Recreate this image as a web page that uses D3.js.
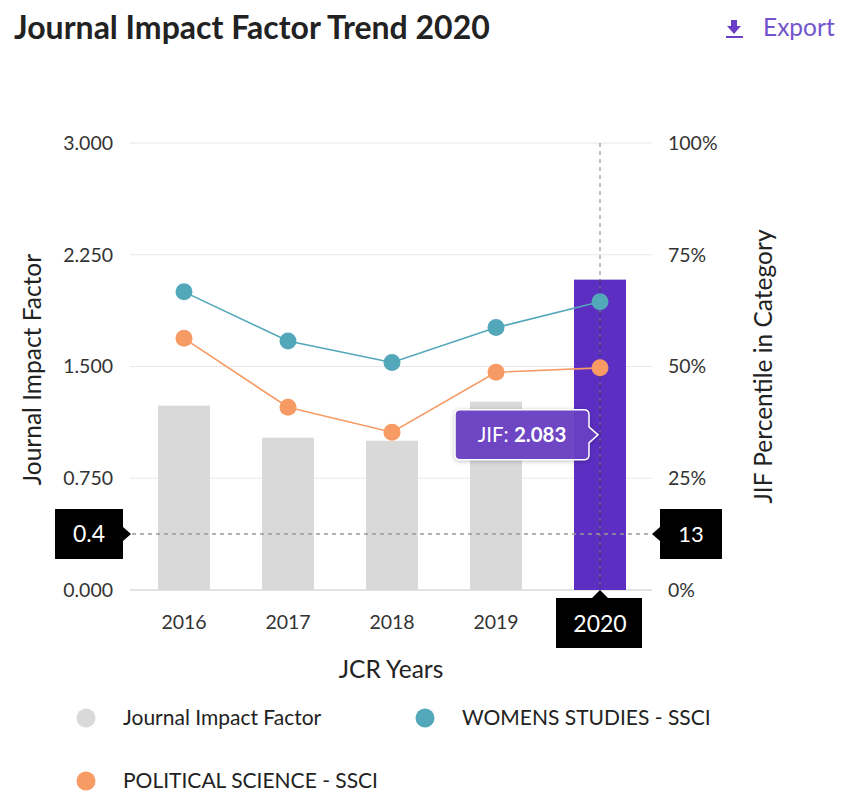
<!DOCTYPE html>
<html>
<head>
<meta charset="utf-8">
<script src="https://cdn.jsdelivr.net/npm/d3@7/dist/d3.min.js"></script>
<style>
  html, body { margin: 0; padding: 0; background: #fff; }
  svg { display: block; font-family: Lato, "Open Sans", sans-serif; }
</style>
</head>
<body>
<svg id="chart" width="848" height="797"></svg>
<script>
// ---- data ----
const years = ["2016", "2017", "2018", "2019", "2020"];
const jifValues = [1.237, 1.022, 1.002, 1.264, 2.083];
const womensStudiesPct = [66.7, 55.7, 50.9, 58.7, 64.5];
const politicalSciencePct = [56.3, 40.9, 35.3, 48.7, 49.7];
const leftTicks = [0, 0.75, 1.5, 2.25, 3.0];
const rightTicks = [0, 25, 50, 75, 100];
const highlightYear = "2020";
const crosshairJIF = 0.376;
const legendItems = [
  { label: "Journal Impact Factor", color: "#d9d9d9" },
  { label: "WOMENS STUDIES - SSCI", color: "#52a8b9" },
  { label: "POLITICAL SCIENCE - SSCI", color: "#f79a64" }
];

(function () {
// ---- layout ----
const svg = d3.select("#chart");
const pLeft = 132, pRight = 652, pTop = 143, pBottom = 590;
const barGray = "#d9d9d9", purple = "#5c2fc2", teal = "#52a8b9", orange = "#f79a64";
const textColor = "#333";
const tickFs = 19.5;

const x = d3.scaleBand().domain(years).range([pLeft, pRight]).paddingInner(0.5).paddingOuter(0.25);
const yL = d3.scaleLinear().domain([0, 3]).range([pBottom, pTop]);
const yR = d3.scaleLinear().domain([0, 100]).range([pBottom, pTop]);

// title
svg.append("text").attr("x", 14).attr("y", 39)
  .attr("font-size", 32).attr("font-weight", 700).attr("fill", "#222")
  .text("Journal Impact Factor Trend 2020");

// export
const ex = svg.append("g").attr("fill", "#6a3fc8");
ex.append("path").attr("d", "M731,20 h6 v6 h4 l-7,8 l-7,-8 h4 z");
ex.append("rect").attr("x", 726).attr("y", 36).attr("width", 17).attr("height", 2);
svg.append("text").attr("x", 763).attr("y", 36).attr("font-size", 24.5).attr("fill", "#7454cc").text("Export");

// gridlines
svg.append("g").selectAll("line").data(leftTicks).join("line")
  .attr("x1", pLeft - 2).attr("x2", pRight).attr("y1", d => yL(d)).attr("y2", d => yL(d))
  .attr("stroke", d => d === 0 ? "#e2e2e2" : "#e8e8e8").attr("stroke-width", d => d === 0 ? 2 : 1.2);

// left axis
const axL = svg.append("g").attr("transform", `translate(${pLeft - 2},0)`)
  .call(d3.axisLeft(yL).tickValues(leftTicks).tickFormat(d3.format(".3f")).tickSize(0).tickPadding(17));
axL.select(".domain").remove();
axL.selectAll("text").attr("font-size", tickFs).attr("fill", textColor).attr("font-family", "Lato, sans-serif");

// right axis
const axR = svg.append("g").attr("transform", `translate(${pRight},0)`)
  .call(d3.axisRight(yR).tickValues(rightTicks).tickFormat(d => d + "%").tickSize(0).tickPadding(16));
axR.select(".domain").remove();
axR.selectAll("text").attr("font-size", tickFs).attr("fill", textColor).attr("font-family", "Lato, sans-serif");

// bottom axis (highlighted year is shown in the black crosshair label instead)
const axB = svg.append("g").attr("transform", `translate(0,${pBottom})`)
  .call(d3.axisBottom(x).tickSize(0).tickPadding(25));
axB.select(".domain").remove();
axB.selectAll("text").attr("font-size", tickFs).attr("fill", textColor).attr("font-family", "Lato, sans-serif");
axB.selectAll(".tick").filter(d => d === highlightYear).remove();

// axis titles
svg.append("text").attr("transform", `translate(41,${(pTop + pBottom) / 2 + 3}) rotate(-90)`)
  .attr("text-anchor", "middle").attr("font-size", 24.5).attr("fill", "#222").text("Journal Impact Factor");
svg.append("text").attr("transform", `translate(772,${(pTop + pBottom) / 2}) rotate(-90)`)
  .attr("text-anchor", "middle").attr("font-size", 24.5).attr("fill", "#222").text("JIF Percentile in Category");
svg.append("text").attr("x", 391).attr("y", 678).attr("text-anchor", "middle")
  .attr("font-size", 24.5).attr("fill", "#222").text("JCR Years");

// bars
svg.append("g").selectAll("rect").data(years).join("rect")
  .attr("x", d => x(d)).attr("width", x.bandwidth())
  .attr("y", (d, i) => yL(jifValues[i])).attr("height", (d, i) => pBottom - yL(jifValues[i]))
  .attr("fill", d => d === highlightYear ? purple : barGray);

// crosshair lines
const cx = x(highlightYear) + x.bandwidth() / 2;
const cy = yL(crosshairJIF);
svg.append("line").attr("x1", cx).attr("x2", cx).attr("y1", pTop).attr("y2", pBottom)
  .attr("stroke", "#999").attr("stroke-width", 1.3).attr("stroke-dasharray", "4,4");
svg.append("line").attr("x1", cx).attr("x2", cx).attr("y1", yL(jifValues[4])).attr("y2", pBottom)
  .attr("stroke", "#3a2080").attr("stroke-width", 1.3).attr("stroke-dasharray", "4,4");
svg.append("line").attr("x1", pLeft).attr("x2", pRight).attr("y1", cy).attr("y2", cy)
  .attr("stroke", "#999").attr("stroke-width", 1.3).attr("stroke-dasharray", "4,4");

// lines
function drawSeries(vals, color) {
  const pts = years.map((y, i) => [x(y) + x.bandwidth() / 2, yR(vals[i])]);
  svg.append("path").attr("d", d3.line()(pts)).attr("fill", "none").attr("stroke", color).attr("stroke-width", 1.6);
  svg.append("g").selectAll("circle").data(pts).join("circle")
    .attr("cx", d => d[0]).attr("cy", d => d[1]).attr("r", 8.5).attr("fill", color);
}
drawSeries(politicalSciencePct, orange);
drawSeries(womensStudiesPct, teal);

// tooltip
const ty = (yL(jifValues[4]) + yL(0)) / 2;
const tipRight = 589, tipLeft = 455, tipH = 50;
const tg = svg.append("g");
tg.append("path")
  .attr("d", `M${tipLeft + 5},${ty - tipH / 2} H${tipRight - 5} Q${tipRight},${ty - tipH / 2} ${tipRight},${ty - tipH / 2 + 5} V${ty - 8} L${tipRight + 9},${ty} L${tipRight},${ty + 8} V${ty + tipH / 2 - 5} Q${tipRight},${ty + tipH / 2} ${tipRight - 5},${ty + tipH / 2} H${tipLeft + 5} Q${tipLeft},${ty + tipH / 2} ${tipLeft},${ty + tipH / 2 - 5} V${ty - tipH / 2 + 5} Q${tipLeft},${ty - tipH / 2} ${tipLeft + 5},${ty - tipH / 2} Z`)
  .attr("fill", "#6a3fc4").attr("fill-opacity", 0.95).attr("stroke", "#fff").attr("stroke-width", 1.5)
  .style("filter", "drop-shadow(0px 1px 2px rgba(0,0,0,0.25))");
const tt = tg.append("text").attr("x", (tipLeft + tipRight) / 2).attr("y", ty + 7).attr("text-anchor", "middle")
  .attr("font-size", 20.5).attr("fill", "#fff");
tt.append("tspan").text("JIF: ");
tt.append("tspan").attr("font-weight", 700).text(d3.format(".3f")(jifValues[4]));

// crosshair labels
function blackLabel(pathD, tx, tyy, txt, size) {
  svg.append("path").attr("d", pathD).attr("fill", "#000");
  svg.append("text").attr("x", tx).attr("y", tyy).attr("text-anchor", "middle").attr("font-size", size)
    .attr("fill", "#fff").text(txt);
}
blackLabel(`M55,${cy - 25} H123 V${cy - 7} L131,${cy} L123,${cy + 7} V${cy + 25} H55 Z`,
  89, cy + 8, d3.format(".1f")(crosshairJIF), 23);
blackLabel(`M660,${cy - 25} H722 V${cy + 25} H660 V${cy + 7} L652,${cy} L660,${cy - 7} Z`,
  691, cy + 8, String(Math.round(crosshairJIF / 3 * 100)), 22);
blackLabel(`M556,598 H${cx - 8} L${cx},590 L${cx + 8},598 H642 V648 H556 Z`,
  cx, 632, highlightYear, 23);

// legend
const legPos = [[86, 718], [425, 718], [86, 781]];
const lg = svg.append("g").selectAll("g").data(legendItems).join("g")
  .attr("transform", (d, i) => `translate(${legPos[i][0]},${legPos[i][1]})`);
lg.append("circle").attr("r", 9.5).attr("fill", d => d.color);
lg.append("text").attr("x", 37).attr("y", 7).attr("font-size", 21).attr("fill", "#222").text(d => d.label);
})();
</script>
</body>
</html>
